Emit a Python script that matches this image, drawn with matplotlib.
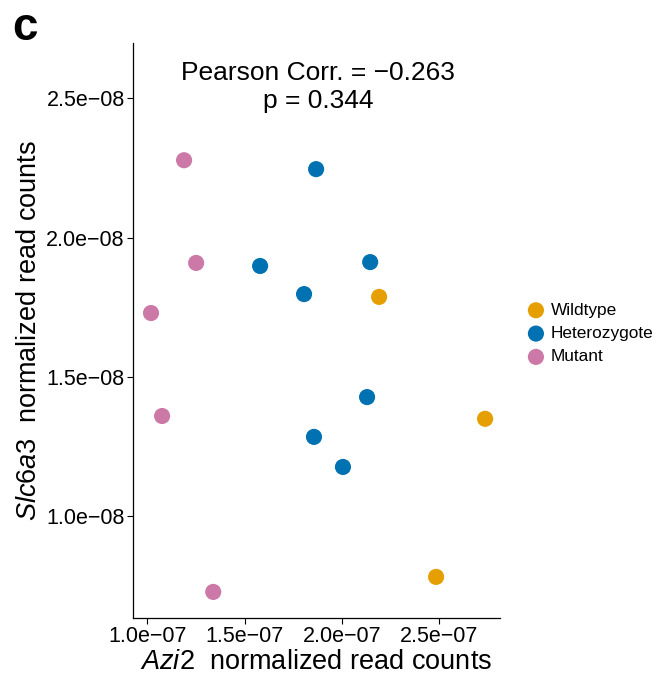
import matplotlib
matplotlib.use("Agg")
import matplotlib.pyplot as plt

plt.rcParams["font.family"] = ["Liberation Sans", "DejaVu Sans"]
plt.rcParams["mathtext.fontset"] = "custom"
plt.rcParams["mathtext.rm"] = "Liberation Sans"
plt.rcParams["mathtext.it"] = "Liberation Sans:italic"

groups = ["Wildtype", "Heterozygote", "Mutant"]
colors = ["#E69F00", "#0072B2", "#CC79A7"]

wt_x = [2.192e-07, 2.737e-07, 2.485e-07]
wt_y = [1.787e-08, 1.349e-08, 0.781e-08]
het_x = [1.868e-07, 1.580e-07, 1.806e-07, 2.146e-07, 2.130e-07, 1.857e-07, 2.006e-07]
het_y = [2.246e-08, 1.898e-08, 1.797e-08, 1.912e-08, 1.427e-08, 1.284e-08, 1.176e-08]
mut_x = [1.189e-07, 1.251e-07, 1.019e-07, 1.076e-07, 1.339e-07]
mut_y = [2.278e-08, 1.909e-08, 1.729e-08, 1.359e-08, 0.727e-08]

xticks = [1.0e-07, 1.5e-07, 2.0e-07, 2.5e-07]
xtick_labels = ["1.0e\u221207", "1.5e\u221207", "2.0e\u221207", "2.5e\u221207"]
yticks = [1.0e-08, 1.5e-08, 2.0e-08, 2.5e-08]
ytick_labels = ["1.0e\u221208", "1.5e\u221208", "2.0e\u221208", "2.5e\u221208"]

fig = plt.figure(figsize=(6.65, 6.78), dpi=100)
ax = fig.add_axes([0.2, 0.0885, 0.552, 0.848])

data = [(wt_x, wt_y), (het_x, het_y), (mut_x, mut_y)]
for (xs, ys), g, c in zip(data, groups, colors):
    ax.scatter(xs, ys, s=135, color=c, label=g, edgecolors="none", zorder=3)

ax.set_xlim(0.9264e-07, 2.814e-07)
ax.set_ylim(0.6333e-08, 2.699e-08)
ax.set_xticks(xticks)
ax.set_xticklabels(xtick_labels)
ax.set_yticks(yticks)
ax.set_yticklabels(ytick_labels)
ax.tick_params(labelsize=15.5, length=4, width=0.8, colors="black", pad=2)

for side in ["top", "right"]:
    ax.spines[side].set_visible(False)
for side in ["left", "bottom"]:
    ax.spines[side].set_linewidth(0.9)

ax.set_xlabel(r"$\mathit{Azi2}$  normalized read counts", fontsize=19.5, labelpad=1)
ax.set_ylabel(r"$\mathit{Slc6a3}$  normalized read counts", fontsize=19.5, labelpad=3)

ax.text(0.505, 0.968, "Pearson Corr. = \u22120.263\np = 0.344", transform=ax.transAxes,
        ha="center", va="top", fontsize=19, linespacing=1.2)

fig.text(0.038, 0.958, "c", fontsize=33, fontweight="bold", ha="center", va="center")

leg = ax.legend(loc="center left", bbox_to_anchor=(0.78, 0.508), bbox_transform=fig.transFigure,
                frameon=False, fontsize=12.4, handletextpad=0.25, labelspacing=0.48,
                borderaxespad=0, handlelength=1.2, markerscale=1.0)

fig.savefig("out.png", dpi=100)
plt.close(fig)
